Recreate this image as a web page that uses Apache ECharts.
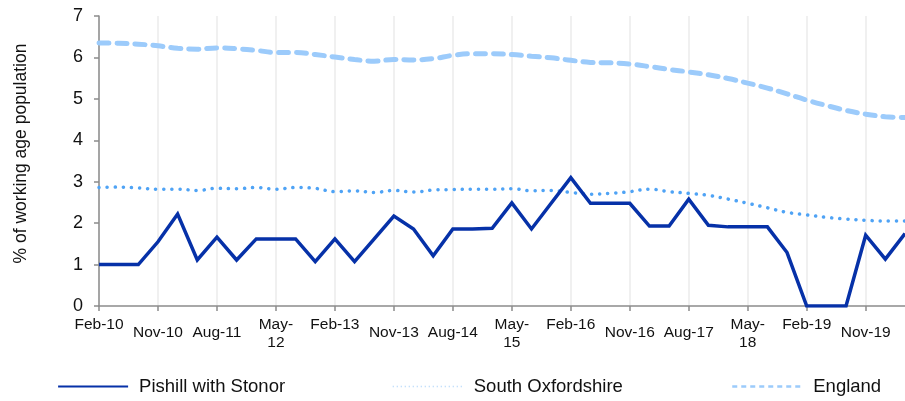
<!DOCTYPE html>
<html>
<head>
<meta charset="utf-8">
<script src="https://cdn.jsdelivr.net/npm/echarts@6.0.0/dist/echarts.min.js"></script>
<style>
html,body{margin:0;padding:0;background:#fff;}
#chart{width:905px;height:401px;}
</style>
</head>
<body>
<div id="chart"></div>
<script>
var categories = [
  'Feb-10','May-10','Aug-10','Nov-10',
  'Feb-11','May-11','Aug-11','Nov-11',
  'Feb-12','May-12','Aug-12','Nov-12',
  'Feb-13','May-13','Aug-13','Nov-13',
  'Feb-14','May-14','Aug-14','Nov-14',
  'Feb-15','May-15','Aug-15','Nov-15',
  'Feb-16','May-16','Aug-16','Nov-16',
  'Feb-17','May-17','Aug-17','Nov-17',
  'Feb-18','May-18','Aug-18','Nov-18',
  'Feb-19','May-19','Aug-19','Nov-19',
  'Feb-20','May-20'
];
var pishill = [
  1.00, 1.00, 1.00, 1.55, 2.22, 1.11, 1.66, 1.11, 1.62, 1.62,
  1.62, 1.07, 1.62, 1.07, 1.62, 2.17, 1.86, 1.21, 1.86, 1.86,
  1.875, 2.49, 1.86, 2.48, 3.10, 2.48, 2.48, 2.48, 1.93, 1.93,
  2.58, 1.95, 1.91, 1.91, 1.91, 1.29, 0.00, 0.00, 0.00, 1.71,
  1.13, 1.75
];
var southOxfordshire = [
  2.86, 2.87, 2.85, 2.82, 2.82, 2.79, 2.84, 2.83, 2.86, 2.82,
  2.86, 2.84, 2.76, 2.78, 2.74, 2.79, 2.75, 2.80, 2.81, 2.82,
  2.82, 2.83, 2.78, 2.79, 2.74, 2.70, 2.72, 2.76, 2.82, 2.76,
  2.72, 2.67, 2.58, 2.48, 2.37, 2.26, 2.20, 2.14, 2.10, 2.07,
  2.05, 2.05
];
var england = [
  6.35, 6.34, 6.32, 6.28, 6.22, 6.20, 6.23, 6.21, 6.17, 6.12,
  6.12, 6.07, 6.01, 5.95, 5.91, 5.95, 5.94, 5.97, 6.05, 6.09,
  6.09, 6.07, 6.03, 5.99, 5.93, 5.88, 5.87, 5.84, 5.78, 5.71,
  5.65, 5.58, 5.49, 5.38, 5.26, 5.12, 4.97, 4.84, 4.72, 4.63,
  4.57, 4.55
];
var seriesNames = ['Pishill with Stonor', 'South Oxfordshire', 'England'];
var yTicks = { min: 0, max: 7, interval: 1 };
var yAxisTitle = '% of working age population';

var FONT = '"Liberation Sans", Arial, sans-serif';
var chart = echarts.init(document.getElementById('chart'), null, { renderer: 'canvas' });

function legendFor(name, left, ls) {
  return {
    left: left, top: 377, padding: 0,
    itemWidth: 70, itemHeight: 14,
    data: [{ name: name, lineStyle: ls, itemStyle: { opacity: 0 } }],
    textStyle: { fontFamily: FONT, fontSize: 18.5, color: '#111', padding: [0, 0, 0, 6] },
    selectedMode: false
  };
}

chart.setOption({
  animation: false,
  backgroundColor: '#fff',
  grid: { left: 99, right: -3.75, top: 16, bottom: 95 },
  legend: [
    legendFor(seriesNames[0], 57, { width: 2.2 }),
    legendFor(seriesNames[1], 392, { width: 1.5, opacity: 0.45, type: [1, 3], cap: 'butt' }),
    legendFor(seriesNames[2], 731, { width: 2.5, type: [5, 4], cap: 'butt' })
  ],
  xAxis: {
    type: 'category',
    data: categories,
    boundaryGap: false,
    axisLine: { lineStyle: { color: '#8c8c8c', width: 1.5 } },
    axisTick: { show: true, interval: 2, length: 5, lineStyle: { color: '#8c8c8c', width: 1.5 } },
    splitLine: { show: true, interval: 2, lineStyle: { color: '#ebebeb', width: 1.5 } },
    axisLabel: {
      interval: 2,
      margin: 10,
      color: '#111',
      fontFamily: FONT,
      fontSize: 15.5,
      formatter: function (v) {
        if (/^(Nov|Aug)/.test(v)) return '{m|' + v + '}';
        if (/^May/.test(v)) return '{t|' + v.replace('-', '-}\n{t|') + '}';
        return '{t|' + v + '}';
      },
      rich: {
        t: { fontFamily: FONT, fontSize: 15.5, lineHeight: 18, color: '#111' },
        m: { fontFamily: FONT, fontSize: 15.5, lineHeight: 34, color: '#111' }
      }
    }
  },
  yAxis: {
    type: 'value',
    min: yTicks.min, max: yTicks.max, interval: yTicks.interval,
    name: yAxisTitle,
    nameLocation: 'middle',
    nameGap: 69,
    nameRotate: 90,
    nameTextStyle: { fontFamily: FONT, fontSize: 17.5, color: '#111', padding: [0, 0, 0, 15] },
    axisLine: { show: true, lineStyle: { color: '#8c8c8c', width: 1.5 } },
    axisTick: { show: true, length: 5, lineStyle: { color: '#8c8c8c', width: 1.5 } },
    splitLine: { show: false },
    axisLabel: { margin: 16, color: '#111', fontFamily: FONT, fontSize: 18 }
  },
  series: [
    {
      name: seriesNames[0], type: 'line', data: pishill,
      symbol: 'none', z: 5,
      itemStyle: { color: '#0631a8' },
      lineStyle: { color: '#0631a8', width: 3.5, join: 'miter' }
    },
    {
      name: seriesNames[1], type: 'line', data: southOxfordshire,
      symbol: 'none', smooth: 0.4, z: 4,
      itemStyle: { color: '#4fa3f5' },
      lineStyle: { color: '#4fa3f5', width: 3.5, type: [0.1, 8], cap: 'round' }
    },
    {
      name: seriesNames[2], type: 'line', data: england,
      symbol: 'none', smooth: 0.4, z: 3,
      itemStyle: { color: '#9ccbfb' },
      lineStyle: { color: '#9ccbfb', width: 5, type: [10, 8], cap: 'round' }
    }
  ]
});
</script>
</body>
</html>
